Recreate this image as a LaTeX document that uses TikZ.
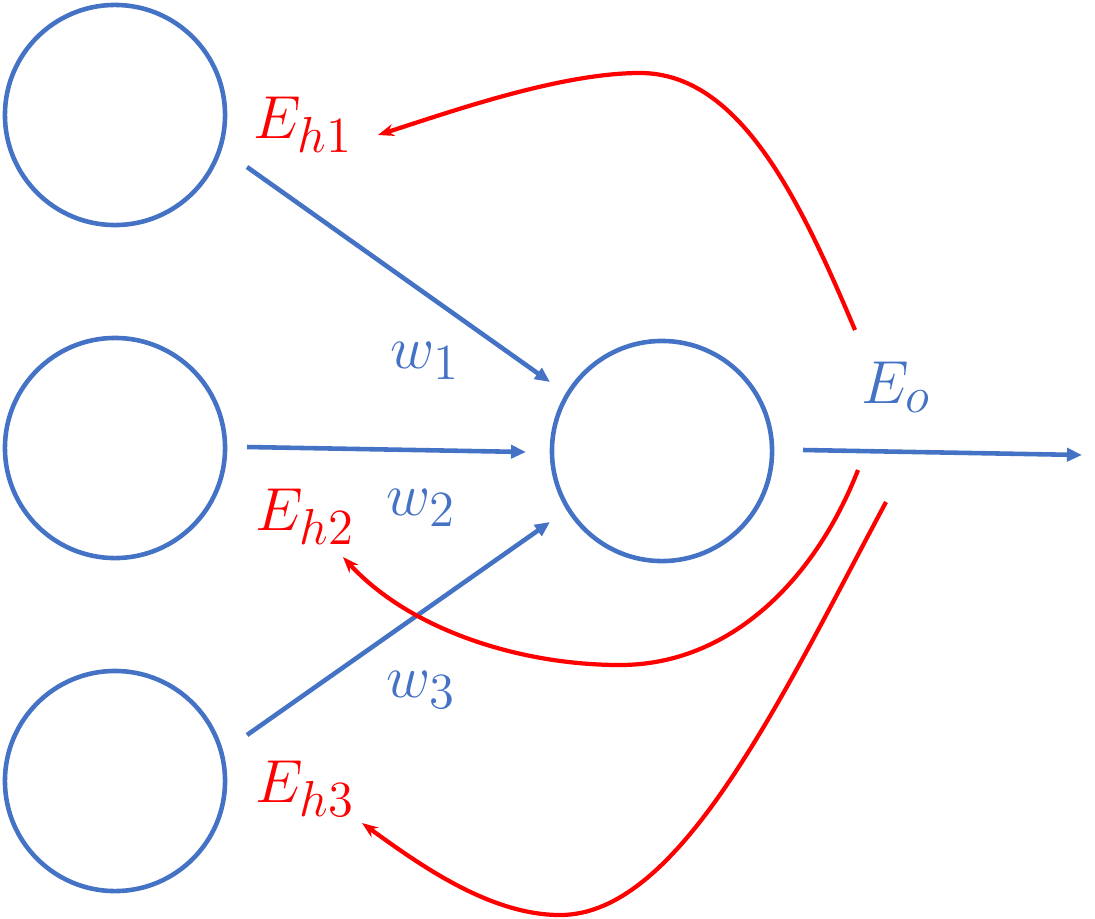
\documentclass[tikz,border=0pt]{standalone}
\usepackage{amsmath}
\usetikzlibrary{arrows.meta}
\definecolor{wblue}{HTML}{4472C4}
\definecolor{ered}{HTML}{FF0000}

\begin{document}
\begin{tikzpicture}[x=0.01cm,y=-0.01cm,
    neuron/.style={circle,draw=wblue,line width=1.3pt,minimum size=2.2cm,inner sep=0pt},
    weight/.style={wblue,line width=1.3pt,-{Triangle[length=0.15cm,width=0.13cm]}},
    backprop/.style={ered,line width=1.2pt,-{Stealth[length=0.16cm,width=0.12cm]}},
    lbl/.style={font=\fontsize{19}{23}\selectfont,inner sep=0pt,anchor=base west}]
    \useasboundingbox (0,0) rectangle (1095,918);
    % neurons
    \node[neuron] (in1) at (115,115) {};
    \node[neuron] (in2) at (115,448) {};
    \node[neuron] (in3) at (115,781) {};
    \node[neuron] (hid) at (662,451) {};
    % labels
    \node[lbl,text=ered] (eh1) at (253,138) {$E_{h1}$};
    \node[lbl,text=ered] (eh2) at (255,530) {$E_{h2}$};
    \node[lbl,text=ered] (eh3) at (255,802) {$E_{h3}$};
    \node[lbl,text=wblue] (w1) at (390,368) {$w_1$};
    \node[lbl,text=wblue] (w2) at (386,515) {$w_2$};
    \node[lbl,text=wblue] (w3) at (386,697) {$w_3$};
    \node[lbl,text=wblue] (eo) at (861,403) {$E_o$};
    % end points of the connectors
    \coordinate (s1) at (247,167);
    \coordinate (t1) at (550,382);
    \coordinate (s2) at (247,447);
    \coordinate (t2) at (526,452);
    \coordinate (s3) at (247,735);
    \coordinate (t3) at (550,522);
    \coordinate (so) at (803,450);
    \coordinate (to) at (1082,455);
    \coordinate (r1) at (855,330);
    \coordinate (r2) at (858,470);
    \coordinate (r3) at (886,502);
    \coordinate (a1) at (378,135);
    \coordinate (a2) at (343,557);
    \coordinate (a3) at (362,823);
    % forward
    \draw[weight] (s1) -- (t1);
    \draw[weight] (s2) -- (t2);
    \draw[weight] (s3) -- (t3);
    \draw[weight] (so) -- (to);
    % backward
    \draw[backprop] (r1) .. controls (800,200) and (740,73) .. (640,73)
        .. controls (560,73) and (450,112) .. (a1);
    \draw[backprop] (r2) .. controls (815,580) and (730,665) .. (620,665)
        .. controls (520,665) and (410,630) .. (a2);
    \draw[backprop] (r3) .. controls (780,700) and (680,915) .. (560,915)
        .. controls (490,915) and (420,865) .. (a3);
\end{tikzpicture}
\end{document}
